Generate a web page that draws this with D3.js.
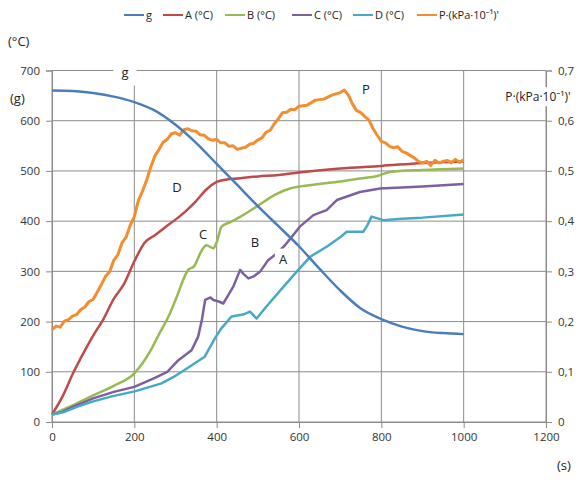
<!DOCTYPE html>
<html>
<head>
<meta charset="utf-8">
<script src="https://cdn.jsdelivr.net/npm/d3@7"></script>
<style>
    body { margin: 0; background: #fff; }
    #chart { width: 583px; height: 480px; }
    text { font-family: 'Open Sans', 'Noto Sans', sans-serif; fill: #222; }
</style>
</head>
<body>
<div id="chart"></div>
<script>
// data (time in s)
var xTicks = [0, 200, 400, 600, 800, 1000, 1200];
var yTicks = [0, 100, 200, 300, 400, 500, 600, 700];
var yRightTicks = ['0', '0,1', '0,2', '0,3', '0,4', '0,5', '0,6', '0,7'];

var seriesG = [[0,660],[50,659],[100,655],[150,648],[200,637],[250,620],[300,592],[350,556],[400,514],[450,472],[500,430],[550,390],[600,350],[650,305],[700,262],[750,226],[800,205],[850,190],[900,181],[950,177],[1000,175]];

var seriesA = [[0,15],[25,50],[50,95],[75,135],[100,172],[125,205],[150,245],[175,275],[200,320],[225,357],[250,372],[275,388],[300,403],[325,420],[350,440],[375,463],[400,478],[425,483],[450,485],[500,489],[550,492],[600,497],[700,505],[800,510],[900,516],[1000,519]];

var seriesB = [[0,15],[25,24],[50,33],[100,53],[150,72],[200,97],[240,143],[260,175],[283,210],[300,243],[331,303],[345,310],[364,342],[375,352],[392,346],[400,358],[412,389],[436,399],[460,410],[497,429],[540,452],[578,465],[602,469],[650,474],[700,479],[748,485],[790,490],[821,498],[900,502],[1000,505]];

var seriesC = [[0,15],[25,20],[50,30],[100,47],[150,60],[200,70],[250,88],[280,100],[307,123],[339,143],[355,170],[364,203],[372,243],[385,248],[392,243],[405,240],[416,236],[430,255],[440,269],[457,303],[465,295],[477,286],[490,290],[505,299],[525,322],[545,335],[566,352],[602,389],[635,412],[667,422],[692,442],[748,458],[797,465],[900,469],[1000,474]];

var seriesD = [[0,15],[30,20],[64,31],[100,41],[145,51],[201,61],[266,77],[300,92],[323,104],[347,117],[371,130],[396,167],[410,185],[436,210],[464,214],[481,220],[497,206],[521,230],[562,269],[594,299],[627,329],[667,349],[700,368],[716,379],[756,379],[765,390],[776,409],[805,402],[850,405],[900,407],[1000,413]];

// P in kPa*10^-1 (right axis)
var seriesP = [[0,0.184],[10,0.191],[20,0.189],[30,0.201],[40,0.204],[50,0.211],[60,0.214],[70,0.224],[80,0.229],[90,0.240],[100,0.244],[110,0.259],[120,0.274],[130,0.290],[140,0.299],[150,0.322],[160,0.333],[170,0.357],[180,0.368],[190,0.392],[200,0.409],[210,0.442],[220,0.460],[230,0.482],[240,0.508],[250,0.530],[260,0.543],[270,0.557],[280,0.563],[290,0.574],[300,0.576],[310,0.571],[320,0.582],[330,0.584],[340,0.580],[350,0.579],[360,0.572],[370,0.571],[380,0.564],[390,0.561],[400,0.563],[410,0.556],[420,0.556],[430,0.549],[440,0.550],[450,0.543],[460,0.545],[470,0.547],[480,0.553],[490,0.555],[500,0.562],[510,0.566],[520,0.577],[530,0.581],[540,0.594],[550,0.604],[560,0.616],[570,0.617],[580,0.623],[590,0.622],[600,0.629],[620,0.631],[640,0.641],[660,0.643],[680,0.651],[700,0.656],[710,0.661],[720,0.651],[730,0.633],[740,0.620],[750,0.616],[760,0.608],[770,0.601],[780,0.584],[790,0.571],[800,0.559],[810,0.556],[820,0.549],[830,0.546],[840,0.548],[850,0.539],[860,0.536],[870,0.531],[880,0.526],[890,0.519],[900,0.516],[910,0.519],[920,0.511],[930,0.521],[940,0.516],[950,0.519],[960,0.521],[970,0.516],[980,0.523],[990,0.517],[1000,0.522]];

var legendNames = ['g', 'A (°C)', 'B  (°C)', 'C (°C)', 'D (°C)', 'P·(kPa·10⁻¹)\''];
var colors = ['#4a7ebb', '#be4b48', '#98b954', '#7d60a0', '#46aac5', '#f28e30'];

// svg
var chartWidth = 583, chartHeight = 480;
var svg = d3.select('#chart')
    .append('svg')
        .attr('width', chartWidth)
        .attr('height', chartHeight)
;

var x = d3.scaleLinear().domain([0, 1200]).range([52, 546]);
var y = d3.scaleLinear().domain([0, 700]).range([422, 70.5]);
var yR = d3.scaleLinear().domain([0, 0.7]).range([422, 70.5]);

var gridColor = '#8c8c8c';

// grid
var grid = svg.append('g');
grid.selectAll('.hg')
    .data(yTicks)
    .enter().append('line')
        .attr('x1', x(0)).attr('x2', x(1200))
        .attr('y1', function(d){ return y(d) }).attr('y2', function(d){ return y(d) })
        .style('stroke', gridColor).style('stroke-width', 1);
grid.selectAll('.vg')
    .data(xTicks)
    .enter().append('line')
        .attr('y1', y(0)).attr('y2', y(700))
        .attr('x1', function(d){ return x(d) }).attr('x2', function(d){ return x(d) })
        .style('stroke', gridColor).style('stroke-width', 1);

// axes
var axisLeft = svg.append('g')
    .attr('transform', 'translate(' + x(0) + ',0)')
    .call(d3.axisLeft(y).tickValues(yTicks).tickSize(6).tickPadding(6));
var axisBottom = svg.append('g')
    .attr('transform', 'translate(0,' + y(0) + ')')
    .call(d3.axisBottom(x).tickValues(xTicks).tickSize(6).tickPadding(5).tickFormat(d3.format('d')));
var axisRight = svg.append('g')
    .attr('transform', 'translate(' + x(1200) + ',0)')
    .call(d3.axisRight(yR).ticks(7).tickSize(6).tickPadding(6)
        .tickFormat(function(d, i){ return yRightTicks[i] }));

[axisLeft, axisBottom, axisRight].forEach(function(a) {
    a.selectAll('path, line').style('stroke', gridColor);
    a.selectAll('text').style('font-size', '11.5px').style('fill', '#333');
});

// lines
var line = d3.line()
    .x(function(d){ return x(d[0]) })
    .y(function(d){ return y(d[1]) });
var lineR = d3.line()
    .x(function(d){ return x(d[0]) })
    .y(function(d){ return yR(d[1]) });
var smooth = d3.line()
    .curve(d3.curveMonotoneX)
    .x(function(d){ return x(d[0]) })
    .y(function(d){ return y(d[1]) });

var lines = svg.append('g').style('fill', 'none').style('stroke-linejoin', 'round');
lines.append('path').attr('d', smooth(seriesA)).style('stroke', colors[1]).style('stroke-width', 2.5);
lines.append('path').attr('d', smooth(seriesB)).style('stroke', colors[2]).style('stroke-width', 2.5);
lines.append('path').attr('d', line(seriesC)).style('stroke', colors[3]).style('stroke-width', 2.5);
lines.append('path').attr('d', line(seriesD)).style('stroke', colors[4]).style('stroke-width', 2.5);
lines.append('path').attr('d', lineR(seriesP)).style('stroke', colors[5]).style('stroke-width', 3);
lines.append('path').attr('d', smooth(seriesG)).style('stroke', colors[0]).style('stroke-width', 2.5);

// labels with white box
var labels = [
    { t: 'g', x: 125, y: 72, pad: 8 },
    { t: 'D', x: 177, y: 187, pad: 4 },
    { t: 'C', x: 203, y: 234, pad: 4 },
    { t: 'B', x: 255, y: 242, pad: 4 },
    { t: 'A', x: 283, y: 259, pad: 4 },
    { t: 'P', x: 366, y: 89, pad: 4 },
    { t: 'P·(kPa·10⁻¹)\'', x: 538, y: 97, pad: 4 }
];
var lab = svg.append('g');
labels.forEach(function(l) {
    var t = lab.append('text')
        .attr('x', l.x).attr('y', l.y)
        .attr('dy', '0.35em')
        .style('text-anchor', 'middle')
        .style('font-size', l.t.length > 1 ? '12px' : '13px')
        .text(l.t);
    var b = t.node().getBBox();
    lab.insert('rect', 'text')
        .attr('x', b.x - l.pad).attr('y', b.y - 1)
        .attr('width', b.width + l.pad * 2).attr('height', b.height + (l.t == 'g' ? 6 : 2))
        .style('fill', '#fff');
});

// axis titles
svg.append('text').attr('x', 8).attr('y', 46).style('font-size', '13px').text('(°C)');
svg.append('text').attr('x', 10).attr('y', 103).style('font-size', '13px').text('(g)');
svg.append('text').attr('x', 557).attr('y', 470).style('font-size', '13px').text('(s)');

// legend
var legendX = [124, 163, 225, 292, 353, 417];
var legend = svg.append('g')
    .selectAll('g')
    .data(legendNames)
    .enter().append('g')
        .attr('transform', function(d, i){ return 'translate(' + legendX[i] + ',15)' });
legend.append('line')
    .attr('x1', 0).attr('x2', 20)
    .style('stroke', function(d, i){ return colors[i] })
    .style('stroke-width', 2);
legend.append('text')
    .attr('x', 22).attr('dy', '0.35em')
    .style('font-size', '11px')
    .text(function(d){ return d });
</script>
</body>
</html>
